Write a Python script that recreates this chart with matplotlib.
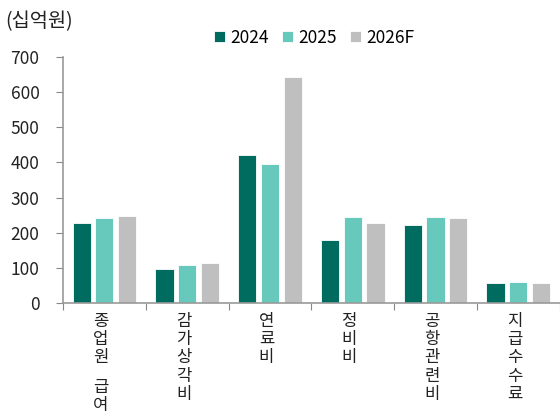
import matplotlib
matplotlib.use("Agg")
import matplotlib.pyplot as plt
import numpy as np

plt.rcParams['font.family'] = ['Noto Sans CJK KR', 'DejaVu Sans']

categories = ["종업원 급여", "감가상각비", "연료비", "정비비", "공항관련비", "지급수수료"]
series_names = ["2024", "2025", "2026F"]
values_2024 = [228, 97, 420, 180, 223, 57]
values_2025 = [243, 108, 396, 244, 246, 59]
values_2026 = [248, 115, 643, 229, 242, 57]
colors = ["#006b5f", "#66c9bc", "#bfbfbf"]

fig = plt.figure(figsize=(5.6, 4.2), dpi=100)
ax = fig.add_axes([0.1125, 0.2786, 0.887, 0.5857])

x = np.arange(len(categories))
width = 0.22
step = 0.275
for i, (vals, name) in enumerate(zip([values_2024, values_2025, values_2026], series_names)):
    ax.bar(x + (i - 1) * step, vals, width, color=colors[i], label=name,
           edgecolor="white", linewidth=0.6)

ax.set_ylim(0, 700)
ax.set_yticks(range(0, 701, 100))
ax.set_xlim(-0.5, len(categories) - 0.5)

# boundary ticks between groups; category names stacked vertically, one char per line
ax.set_xticks(np.arange(-0.5, len(categories), 1.0))
ax.set_xticklabels([])
pitch = 13.2   # points between stacked characters
gap = 8.0      # extra space for a word break
for i, name in enumerate(categories):
    off = -7.0
    for ch in name:
        if ch == " ":
            off -= gap
            continue
        ax.annotate(ch, xy=(i, 0), xycoords=("data", "axes fraction"),
                    xytext=(-2.5, off), textcoords="offset points",
                    ha="center", va="top", fontsize=12, color="#222222",
                    annotation_clip=False)
        off -= pitch

ax.tick_params(axis="x", which="major", length=5, color="#888888", direction="out")
ax.tick_params(axis="y", length=5, color="#888888", labelsize=12.5, pad=12,
               labelcolor="#222222")

for s in ["top", "right"]:
    ax.spines[s].set_visible(False)
for s in ["left", "bottom"]:
    ax.spines[s].set_color("#999999")
    ax.spines[s].set_linewidth(1.2)

fig.text(0.009, 0.948, "(십억원)", fontsize=14.2, va="center", ha="left", color="#222222")
ax.legend(loc="center", bbox_to_anchor=(0.561, 0.91), bbox_transform=fig.transFigure,
          ncol=3, frameon=False, fontsize=12.5, handlelength=0.6, handleheight=0.6,
          handletextpad=0.3, columnspacing=0.8)

fig.savefig("out.png", dpi=100)
